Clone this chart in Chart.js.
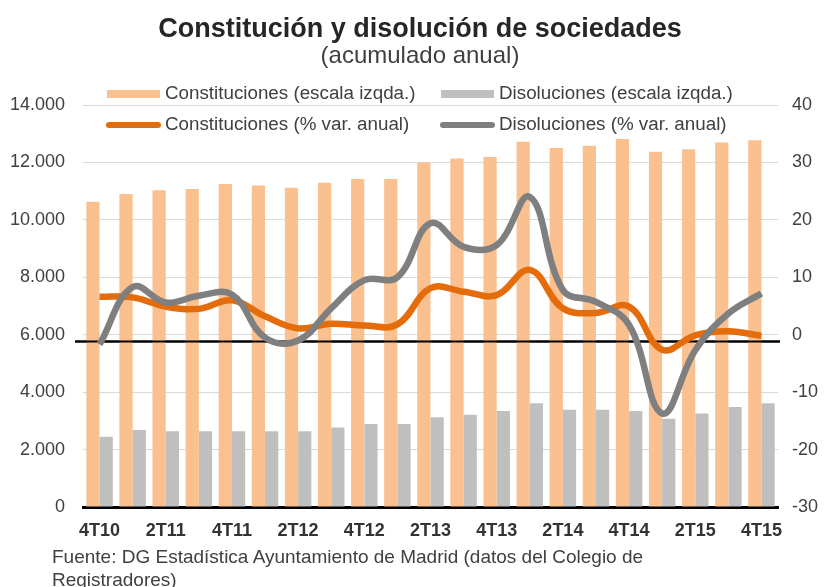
<!DOCTYPE html>
<html>
<head>
<meta charset="utf-8">
<script src="https://cdn.jsdelivr.net/npm/chart.js@4.4.1/dist/chart.umd.min.js"></script>
<style>
    body { margin: 0; background: #fff; }
    #wrap { position: relative; width: 824px; height: 587px; font-family: "Liberation Sans", Arial, sans-serif; color: #404040; }
    #wrap canvas { position: absolute; left: 0; top: 0; }
    .title { position: absolute; left: 8px; width: 824px; text-align: center; }
    #title { top: 13px; font-size: 27px; line-height: 30px; font-weight: bold; color: #262626; }
    #subtitle { top: 41px; font-size: 24px; line-height: 28px; color: #404040; }
    #source { position: absolute; left: 52px; top: 545px; font-size: 19px; line-height: 23px; color: #404040; }
</style>
</head>
<body>
<div id="wrap">
    <canvas id="mainChart" width="824" height="587"></canvas>
    <div class="title" id="title">Constitución y disolución de sociedades</div>
    <div class="title" id="subtitle">(acumulado anual)</div>
    <div id="source">Fuente: DG Estadística Ayuntamiento de Madrid (datos del Colegio de<br>Registradores)</div>
</div>
<script>
// Quarters 4T10 .. 4T15
const quarters = [
    '4T10', '1T11', '2T11', '3T11', '4T11', '1T12', '2T12', '3T12', '4T12',
    '1T13', '2T13', '3T13', '4T13', '1T14', '2T14', '3T14', '4T14',
    '1T15', '2T15', '3T15', '4T15'
];

// Number of companies (left axis)
const constituciones = [
    10630, 10900, 11030, 11075, 11250, 11200, 11120, 11295, 11420, 11420,
    12000, 12140, 12190, 12720, 12500, 12580, 12815, 12375, 12455, 12690, 12770
];
const disoluciones = [
    2450, 2680, 2635, 2635, 2635, 2635, 2635, 2765, 2890, 2890,
    3125, 3215, 3345, 3610, 3390, 3390, 3345, 3075, 3260, 3485, 3610
];

// Annual % change (right axis)
const constitucionesVar = [
    6.6, 6.5, 4.9, 4.5, 6.0, 3.2, 1.1, 1.9, 1.6, 1.8,
    8.1, 7.5, 6.9, 11.3, 4.6, 3.8, 4.9, -2.6, -0.1, 0.6, -0.2
];
const disolucionesVar = [
    -1.7, 8.3, 5.6, 6.8, 7.0, -0.5, -1.0, 4.6, 9.5, 10.0,
    19.4, 15.3, 15.6, 24.0, 7.8, 5.7, 1.7, -13.7, -2.7, 3.7, 7.2
];

// Reference line drawn across the plot (right axis units)
const refLineValue = -1.2;

const FONT = '"Liberation Sans", Arial, sans-serif';
const TEXT_COLOR = '#404040';

const formatThousands = v => String(v).replace(/\B(?=(\d{3})+(?!\d))/g, '.');

// Legend laid out in two rows / two columns over the plot
const legendPlugin = {
    id: 'legendBox',
    afterDraw(chart) {
        const ctx = chart.ctx;
        const cols = [107, 441];
        const rows = [94, 125];
        ctx.save();
        ctx.font = '18.8px ' + FONT;
        ctx.textBaseline = 'middle';
        chart.data.datasets.forEach((ds, i) => {
            const x = cols[i % 2];
            const y = rows[Math.floor(i / 2)];
            if (ds.type === 'line') {
                ctx.strokeStyle = ds.borderColor;
                ctx.lineWidth = 6;
                ctx.lineCap = 'round';
                ctx.beginPath();
                ctx.moveTo(x + 2, y);
                ctx.lineTo(x + 51, y);
                ctx.stroke();
            } else {
                ctx.fillStyle = ds.backgroundColor;
                ctx.fillRect(x, y - 4, 53, 8);
            }
            ctx.fillStyle = TEXT_COLOR;
            ctx.fillText(ds.label, x + 58, y);
        });
        ctx.restore();
    }
};

// Black horizontal line over the bars, under the lines
const refLinePlugin = {
    id: 'refLine',
    afterDatasetDraw(chart, args) {
        if (args.meta.type !== 'bar') return;
        const { ctx, chartArea } = chart;
        const y = chart.scales.y1.getPixelForValue(refLineValue);
        ctx.save();
        ctx.strokeStyle = '#000';
        ctx.lineWidth = 2;
        ctx.beginPath();
        ctx.moveTo(chartArea.left - 8, y);
        ctx.lineTo(chartArea.right + 2, y);
        ctx.stroke();
        ctx.restore();
    }
};

new Chart(document.getElementById('mainChart'), {
    data: {
        labels: quarters,
        datasets: [
            {
                type: 'bar',
                label: 'Constituciones (escala izqda.)',
                data: constituciones,
                backgroundColor: '#FAC090',
                yAxisID: 'y',
                order: 2,
                categoryPercentage: 0.8,
                barPercentage: 1.0
            },
            {
                type: 'bar',
                label: 'Disoluciones (escala izqda.)',
                data: disoluciones,
                backgroundColor: '#BFBFBF',
                yAxisID: 'y',
                order: 2,
                categoryPercentage: 0.8,
                barPercentage: 1.0
            },
            {
                type: 'line',
                label: 'Constituciones (% var. anual)',
                data: constitucionesVar,
                borderColor: '#E46C0A',
                borderWidth: 6.5,
                pointRadius: 0,
                tension: 0.4,
                yAxisID: 'y1',
                order: 1
            },
            {
                type: 'line',
                label: 'Disoluciones (% var. anual)',
                data: disolucionesVar,
                borderColor: '#7F7F7F',
                borderWidth: 6.5,
                pointRadius: 0,
                tension: 0.4,
                yAxisID: 'y1',
                order: 0
            }
        ]
    },
    options: {
        responsive: false,
        animation: false,
        layout: { padding: { top: 105, bottom: 40, left: 0, right: 0 } },
        plugins: {
            legend: { display: false },
            tooltip: { enabled: false }
        },
        scales: {
            x: {
                grid: { display: false, drawTicks: false },
                border: { color: '#000', width: 3 },
                ticks: {
                    autoSkip: false,
                    maxRotation: 0,
                    padding: 13,
                    color: '#333',
                    font: { family: FONT, size: 18, weight: 'bold' },
                    callback: (v, i) => (i % 2 === 0 ? quarters[i] : '')
                },
                afterFit: s => { s.height = 40; }
            },
            y: {
                position: 'left',
                min: 0,
                max: 14000,
                grid: { color: '#D9D9D9', lineWidth: 1, drawTicks: false },
                border: { display: false },
                ticks: {
                    stepSize: 2000,
                    padding: 18,
                    color: TEXT_COLOR,
                    font: { family: FONT, size: 18 },
                    callback: v => formatThousands(v)
                },
                afterFit: s => { s.width = 83; }
            },
            y1: {
                position: 'right',
                min: -30,
                max: 40,
                grid: { display: false, drawTicks: false },
                border: { display: false },
                ticks: {
                    stepSize: 10,
                    padding: 14,
                    color: TEXT_COLOR,
                    font: { family: FONT, size: 18 }
                },
                afterFit: s => { s.width = 46; }
            }
        }
    },
    plugins: [legendPlugin, refLinePlugin]
});
</script>
</body>
</html>
